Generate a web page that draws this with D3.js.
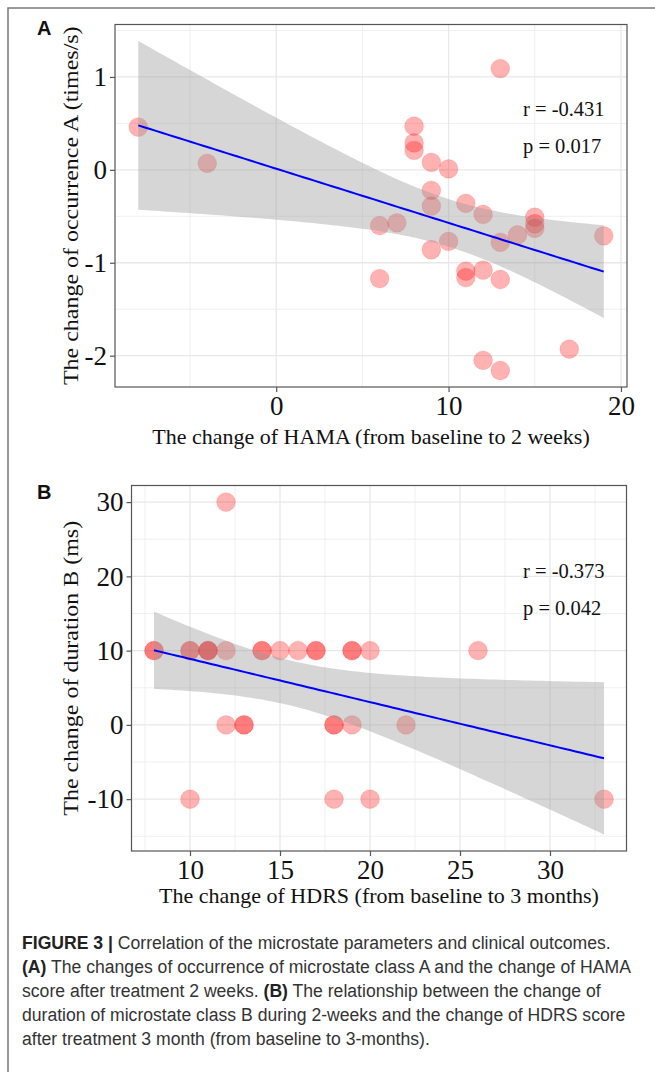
<!DOCTYPE html>
<html>
<head>
<meta charset="utf-8">
<script src="https://cdn.jsdelivr.net/npm/d3@7"></script>
<style>
  body { margin: 0; background: #fff; }
  svg { display: block; }
</style>
</head>
<body>
<script>
// panel A: change of HAMA vs change of occurrence A
const hamaChange = [-8, -4, 13, 8, 8, 8, 9, 10, 9, 9, 11, 12, 15, 15, 15, 6, 7, 14, 19, 13, 10, 9, 6, 11, 11, 12, 13, 12, 13, 17];
const occurrenceA = [0.46, 0.07, 1.09, 0.47, 0.29, 0.21, 0.08, 0.01, -0.22, -0.39, -0.36, -0.48, -0.51, -0.58, -0.63,
  -0.60, -0.57, -0.70, -0.71, -0.78, -0.77, -0.86, -1.17, -1.09, -1.16, -1.08, -1.18, -2.05, -2.16, -1.93];

// panel B: change of HDRS vs change of duration B
const hdrsChange = [8, 8, 10, 10, 11, 11, 11, 12, 14, 14, 15, 16, 17, 17, 19, 19, 20, 26,
  12, 12, 13, 13, 18, 18, 19, 22, 10, 18, 20, 33];
const durationB = [10, 10, 10, 10, 10, 10, 10, 10, 10, 10, 10, 10, 10, 10, 10, 10, 10, 10,
  30, 0, 0, 0, 0, 0, 0, 0, -10, -10, -10, -10];

const aXTicks = [0, 10, 20];
const aXMinor = [-5, 5, 15];
const aYTicks = [-2, -1, 0, 1];
const aYMinor = [-1.5, -0.5, 0.5, 1.5];

const bXTicks = [10, 15, 20, 25, 30];
const bXMinor = [7.5, 12.5, 17.5, 22.5, 27.5, 32.5];
const bYTicks = [-10, 0, 10, 20, 30];
const bYMinor = [-15, -5, 5, 15, 25];

const statsA = ["r = -0.431", "p = 0.017"];
const statsB = ["r = -0.373", "p = 0.042"];

const width = 655, height = 1072;
const serif = "'Liberation Serif', 'Times New Roman', serif";
const sans = "'Liberation Sans', Arial, Helvetica, sans-serif";

const svg = d3.select('body').append('svg')
  .attr('width', width)
  .attr('height', height);

svg.append('rect').attr('width', width).attr('height', height).attr('fill', '#fff');

// outer figure frame (left and top edges)
svg.append('path')
  .attr('d', `M8,${height} L8,8 L${width},8`)
  .attr('fill', 'none')
  .attr('stroke', '#7a7a7a')
  .attr('stroke-width', 1.5);

// least squares fit with 95% band, like geom_smooth(method = "lm")
const fitLm = (xs, ys) => {
  const n = xs.length;
  const mx = d3.mean(xs), my = d3.mean(ys);
  let sxx = 0, sxy = 0;
  for (let i = 0; i < n; i++) {
    sxx += (xs[i] - mx) ** 2;
    sxy += (xs[i] - mx) * (ys[i] - my);
  }
  const b = sxy / sxx, a = my - b * mx;
  let sse = 0;
  for (let i = 0; i < n; i++) sse += (ys[i] - a - b * xs[i]) ** 2;
  const s = Math.sqrt(sse / (n - 2));
  const tCrit = 2.048; // qt(0.975, 28)
  const [lo, hi] = d3.extent(xs);
  return d3.range(80).map(k => {
    const x = lo + (hi - lo) * k / 79;
    const fit = a + b * x;
    const se = s * Math.sqrt(1 / n + (x - mx) ** 2 / sxx);
    return { x, fit, lo: fit - tCrit * se, hi: fit + tCrit * se };
  });
};

const expand = ([lo, hi]) => {
  const pad = (hi - lo) * 0.05;
  return [lo - pad, hi + pad];
};

const drawPanel = (cfg) => {
  const fit = fitLm(cfg.xs, cfg.ys);
  const xDom = expand(d3.extent(cfg.xs));
  const yDom = expand([
    Math.min(d3.min(cfg.ys), d3.min(fit, d => d.lo)),
    Math.max(d3.max(cfg.ys), d3.max(fit, d => d.hi))
  ]);

  const x = d3.scaleLinear().domain(xDom).range([cfg.left, cfg.right]);
  const y = d3.scaleLinear().domain(yDom).range([cfg.bottom, cfg.top]);

  const g = svg.append('g');

  // gridlines
  g.selectAll('.vminor').data(cfg.xMinor).join('line')
    .attr('x1', d => x(d)).attr('x2', d => x(d))
    .attr('y1', cfg.top).attr('y2', cfg.bottom)
    .attr('stroke', '#ececec').attr('stroke-width', 0.8);
  g.selectAll('.hminor').data(cfg.yMinor).join('line')
    .attr('x1', cfg.left).attr('x2', cfg.right)
    .attr('y1', d => y(d)).attr('y2', d => y(d))
    .attr('stroke', '#ececec').attr('stroke-width', 0.8);
  g.selectAll('.vmajor').data(cfg.xTicks).join('line')
    .attr('x1', d => x(d)).attr('x2', d => x(d))
    .attr('y1', cfg.top).attr('y2', cfg.bottom)
    .attr('stroke', '#e8e8e8').attr('stroke-width', 1.3);
  g.selectAll('.hmajor').data(cfg.yTicks).join('line')
    .attr('x1', cfg.left).attr('x2', cfg.right)
    .attr('y1', d => y(d)).attr('y2', d => y(d))
    .attr('stroke', '#e8e8e8').attr('stroke-width', 1.3);

  // points
  const pts = cfg.xs.map((v, i) => ({ x: v, y: cfg.ys[i] }));
  g.selectAll('circle').data(pts).join('circle')
    .attr('cx', d => x(d.x))
    .attr('cy', d => y(d.y))
    .attr('r', 9.4)
    .attr('fill', 'rgba(255,0,0,0.3)')
    .attr('stroke', 'rgba(255,0,0,0.12)')
    .attr('stroke-width', 1);

  // confidence band and fitted line
  g.append('path')
    .attr('d', d3.area().x(d => x(d.x)).y0(d => y(d.lo)).y1(d => y(d.hi))(fit))
    .attr('fill', '#999999')
    .attr('fill-opacity', 0.4);
  g.append('path')
    .attr('d', d3.line().x(d => x(d.x)).y(d => y(d.fit))(fit))
    .attr('fill', 'none')
    .attr('stroke', '#0000ff')
    .attr('stroke-width', 2);

  // panel border
  g.append('rect')
    .attr('x', cfg.left).attr('y', cfg.top)
    .attr('width', cfg.right - cfg.left).attr('height', cfg.bottom - cfg.top)
    .attr('fill', 'none').attr('stroke', '#555').attr('stroke-width', 1.2);

  // axes
  const xAxis = g.append('g')
    .attr('transform', `translate(0, ${cfg.bottom})`)
    .call(d3.axisBottom(x).tickValues(cfg.xTicks).tickSize(5).tickPadding(4).tickFormat(d3.format('d')));
  const yAxis = g.append('g')
    .attr('transform', `translate(${cfg.left}, 0)`)
    .call(d3.axisLeft(y).tickValues(cfg.yTicks).tickSize(5).tickPadding(3).tickFormat(d => String(d)));
  [xAxis, yAxis].forEach(ax => {
    ax.select('.domain').remove();
    ax.selectAll('line').attr('stroke', '#555').attr('stroke-width', 1.2);
    ax.selectAll('text')
      .attr('font-family', serif)
      .attr('font-size', 27)
      .attr('fill', '#111');
  });
  xAxis.selectAll('text').attr('dy', '0.71em');

  // titles
  g.append('text')
    .attr('x', (cfg.left + cfg.right) / 2)
    .attr('y', cfg.xTitleY)
    .attr('text-anchor', 'middle')
    .attr('font-family', serif)
    .attr('font-size', 22)
    .attr('fill', '#111')
    .text(cfg.xTitle);
  g.append('text')
    .attr('transform', `translate(${cfg.yTitleX}, ${(cfg.top + cfg.bottom) / 2}) rotate(-90) scale(1.09, 1)`)
    .attr('text-anchor', 'middle')
    .attr('font-family', serif)
    .attr('font-size', 22)
    .attr('fill', '#111')
    .text(cfg.yTitle);

  // correlation text
  g.selectAll('.stat').data(cfg.stats).join('text')
    .attr('x', cfg.statX)
    .attr('y', (d, i) => cfg.statY + i * 37)
    .attr('font-family', serif)
    .attr('font-size', 20.5)
    .attr('fill', '#111')
    .text(d => d);

  // panel letter
  svg.append('text')
    .attr('x', 37).attr('y', cfg.labelY)
    .attr('font-family', sans)
    .attr('font-weight', 'bold')
    .attr('font-size', 20)
    .attr('fill', '#111')
    .text(cfg.label);
};

drawPanel({
  xs: hamaChange, ys: occurrenceA,
  left: 115, right: 627, top: 24.5, bottom: 387,
  xTicks: aXTicks, xMinor: aXMinor, yTicks: aYTicks, yMinor: aYMinor,
  xTitle: 'The change of HAMA (from baseline to 2 weeks)', xTitleY: 444,
  yTitle: 'The change of occurrence A (times/s)', yTitleX: 78,
  stats: statsA, statX: 523, statY: 116,
  label: 'A', labelY: 35
});

drawPanel({
  xs: hdrsChange, ys: durationB,
  left: 131.5, right: 626.5, top: 485.5, bottom: 851,
  xTicks: bXTicks, xMinor: bXMinor, yTicks: bYTicks, yMinor: bYMinor,
  xTitle: 'The change of HDRS (from baseline to 3 months)', xTitleY: 903,
  yTitle: 'The change of duration B (ms)', yTitleX: 78,
  stats: statsB, statX: 523, statY: 578,
  label: 'B', labelY: 499
});

// caption
const captionLines = [
  [['FIGURE 3 | ', true], ['Correlation of the microstate parameters and clinical outcomes.', false]],
  [['(A)', true], [' The changes of occurrence of microstate class A and the change of HAMA', false]],
  [['score after treatment 2 weeks. ', false], ['(B)', true], [' The relationship between the change of', false]],
  [['duration of microstate class B during 2-weeks and the change of HDRS score', false]],
  [['after treatment 3 month (from baseline to 3-months).', false]]
];

const caption = svg.append('g');
captionLines.forEach((parts, i) => {
  const t = caption.append('text')
    .attr('x', 22)
    .attr('y', 949 + i * 24)
    .attr('font-family', sans)
    .attr('font-size', 17.6)
    .attr('fill', '#333');
  parts.forEach(([s, bold]) => {
    t.append('tspan')
      .attr('font-weight', bold ? 'bold' : 'normal')
      .attr('fill', bold ? '#222' : '#333')
      .text(s);
  });
});
</script>
</body>
</html>
